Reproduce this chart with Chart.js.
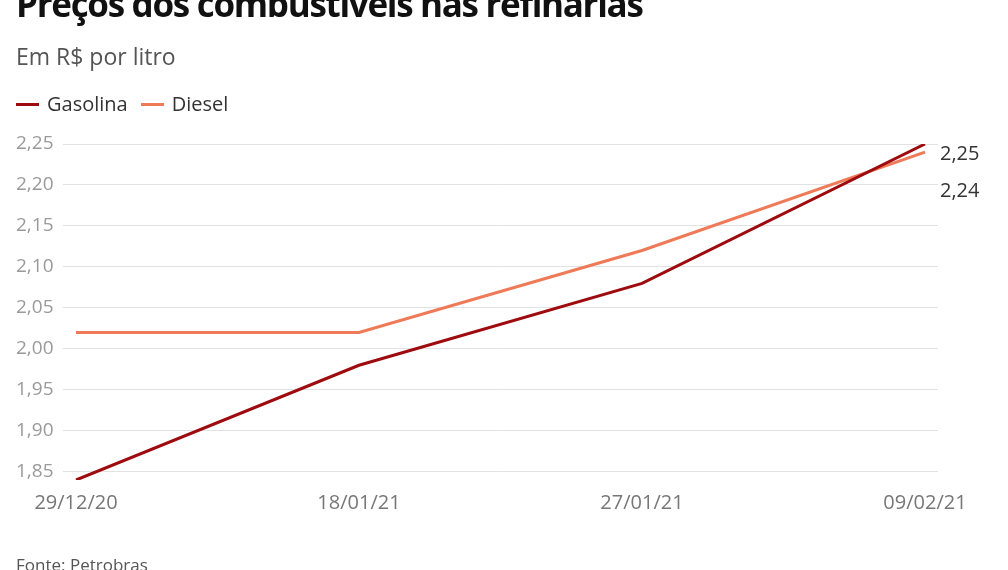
<!DOCTYPE html>
<html>
<head>
<meta charset="utf-8">
<script src="https://cdn.jsdelivr.net/npm/chart.js@4/dist/chart.umd.min.js"></script>
<style>
  html, body { margin:0; padding:0; background:#fff; width:1008px; height:570px; overflow:hidden; }
  body { position:relative; font-family:'Open Sans', sans-serif; }
  #title { position:absolute; left:16px; top:-18px; font-size:35px; font-weight:700; color:#111; letter-spacing:-1.3px; white-space:nowrap; line-height:44px; }
  #subtitle { position:absolute; left:16px; top:42px; font-size:23px; color:#555; white-space:nowrap; line-height:28px; }
  #legend { position:absolute; left:16px; top:90px; font-size:20px; color:#333; white-space:nowrap; line-height:28px; display:flex; align-items:center; }
  .sw { display:inline-block; width:23px; height:3px; margin-right:8px; }
  .item { display:flex; align-items:center; margin-right:13px; }
  #source { position:absolute; left:16px; top:553px; font-size:17px; color:#555; white-space:nowrap; line-height:24px; }
  #wrap { position:absolute; left:0; top:0; width:1008px; height:570px; }
</style>
</head>
<body>
<div id="wrap"><canvas id="c" width="1008" height="570"></canvas></div>
<div id="title">Preços dos combustíveis nas refinarias</div>
<div id="subtitle">Em R$ por litro</div>
<div id="legend">
  <span class="item"><span class="sw" style="background:#9e0b0f"></span>Gasolina</span>
  <span class="item"><span class="sw" style="background:#ee7a58"></span>Diesel</span>
</div>
<div id="source">Fonte: Petrobras</div>
<script>
const categories = ['29/12/20', '18/01/21', '27/01/21', '09/02/21'];
const gasolina = [1.84, 1.98, 2.08, 2.25];
const diesel = [2.02, 2.02, 2.12, 2.24];
const yTicks = [1.85, 1.90, 1.95, 2.00, 2.05, 2.10, 2.15, 2.20, 2.25];
const seriesNames = ['Gasolina', 'Diesel'];
const seriesColors = ['#9e0b0f', '#ee7a58'];

const fmt = v => v.toFixed(2).replace('.', ',');
const toPts = arr => arr.map((v, i) => ({ x: i, y: v }));

const endLabels = {
  id: 'endLabels',
  afterDatasetsDraw(chart) {
    const ctx = chart.ctx;
    const ys = chart.scales.y;
    const items = chart.data.datasets.map(ds => {
      const last = ds.data[ds.data.length - 1];
      return { v: last.y, py: ys.getPixelForValue(last.y) };
    }).sort((a, b) => b.v - a.v);
    let prev = -Infinity;
    ctx.save();
    ctx.font = '20px "Open Sans"';
    ctx.fillStyle = '#333';
    ctx.textAlign = 'left';
    ctx.textBaseline = 'middle';
    items.forEach(it => {
      let y = Math.max(it.py + 10, prev + 37);
      ctx.fillText(fmt(it.v), chart.chartArea.right + 2, y);
      prev = y;
    });
    ctx.restore();
  }
};

new Chart(document.getElementById('c'), {
  type: 'line',
  data: {
    datasets: [
      { label: seriesNames[0], data: toPts(gasolina), borderColor: seriesColors[0], backgroundColor: seriesColors[0], borderWidth: 3, pointRadius: 0, tension: 0 },
      { label: seriesNames[1], data: toPts(diesel), borderColor: seriesColors[1], backgroundColor: seriesColors[1], borderWidth: 3, pointRadius: 0, tension: 0 }
    ]
  },
  options: {
    responsive: false,
    animation: false,
    devicePixelRatio: 1,
    layout: { padding: { left: 16, right: 70, top: 144, bottom: 0 } },
    plugins: { legend: { display: false }, tooltip: { enabled: false } },
    scales: {
      x: {
        type: 'linear',
        min: -0.046,
        max: categories.length - 1 + 0.046,
        grid: { display: false, drawTicks: false },
        border: { display: false },
        afterBuildTicks: axis => { axis.ticks = categories.map((c, i) => ({ value: i })); },
        afterFit: axis => { axis.height = 90; },
        ticks: {
          padding: 11,
          maxRotation: 0,
          autoSkip: false,
          color: '#777',
          font: { family: 'Open Sans', size: 20 },
          callback: v => categories[v]
        }
      },
      y: {
        min: 1.84,
        max: 2.25,
        grid: { color: '#e2e2e2', lineWidth: 1, drawTicks: false },
        border: { display: false },
        afterBuildTicks: axis => { axis.ticks = yTicks.map(v => ({ value: v })); },
        afterFit: axis => { axis.width = 47; },
        ticks: {
          padding: 10,
          crossAlign: 'far',
          color: '#9a9a9a',
          font: { family: 'Open Sans', size: 19 },
          callback: v => fmt(v)
        }
      }
    }
  },
  plugins: [endLabels]
});
</script>
</body>
</html>
